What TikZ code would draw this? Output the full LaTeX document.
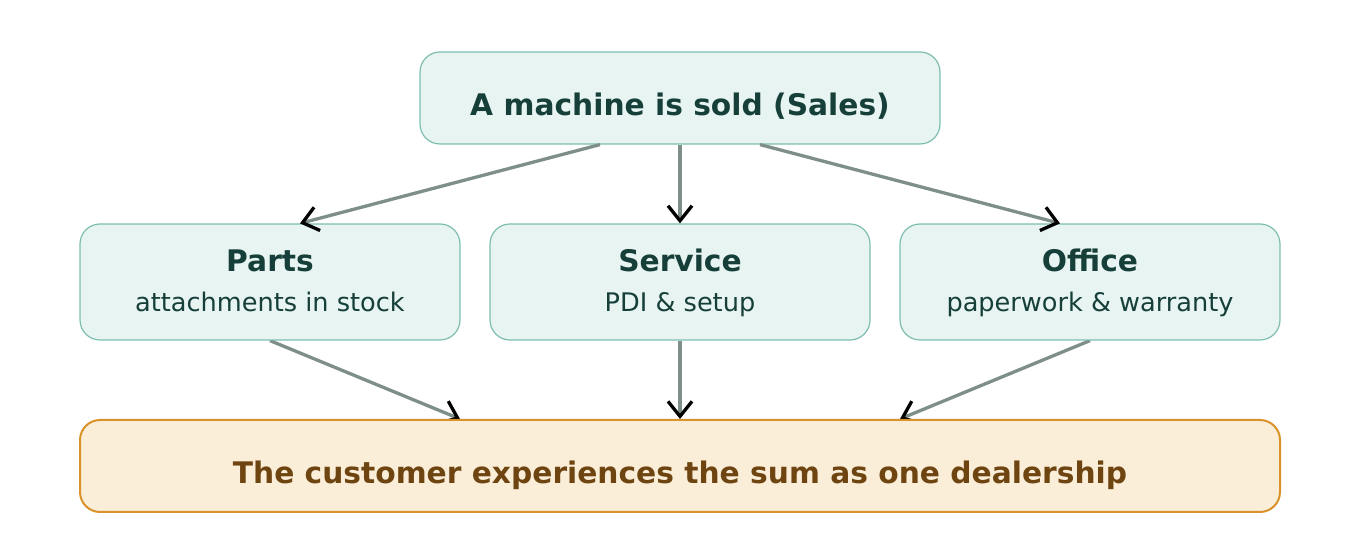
\documentclass[tikz,border=0pt]{standalone}
\usepackage{fontspec}
\setmainfont{DejaVu Sans}
\usetikzlibrary{arrows.meta,calc,backgrounds}
\definecolor{tealfill}{HTML}{E7F4F1}
\definecolor{tealline}{HTML}{7DBDB0}
\definecolor{tealtext}{HTML}{163F3A}
\definecolor{orfill}{HTML}{FAEED8}
\definecolor{orline}{HTML}{D9932A}
\definecolor{ortext}{HTML}{6E4511}
\definecolor{connc}{HTML}{7E8F89}
\begin{document}
\begin{tikzpicture}[x=0.5pt,y=-0.5pt,
  box/.style={draw=tealline, fill=tealfill, line width=0.6pt, rounded corners=10pt, inner sep=0pt},
  sumbox/.style={draw=orline, fill=orfill, line width=1pt, rounded corners=10pt, inner sep=0pt},
  headtxt/.style={font=\fontsize{14.85}{17}\selectfont\bfseries, text=tealtext, anchor=base, inner sep=0pt},
  subtxt/.style={font=\fontsize{12.8}{15}\selectfont, text=tealtext, anchor=base, inner sep=0pt},
  sumtxt/.style={font=\fontsize{14.85}{17}\selectfont\bfseries, text=ortext, anchor=base, inner sep=0pt},
  conn/.style={draw=connc, line width=1.65pt, -{Straight Barb[color=black,length=7.5pt,width=12pt,line width=1.65pt]}}]
\useasboundingbox (0,0) rectangle (1360,544);
% boxes
\node[box, minimum width=260pt, minimum height=46pt] (sales) at (680,98) {};
\node[box, minimum width=190pt, minimum height=58pt] (parts) at (270,282) {};
\node[box, minimum width=190pt, minimum height=58pt] (service) at (680,282) {};
\node[box, minimum width=190pt, minimum height=58pt] (office) at (1090,282) {};
\node[sumbox, minimum width=600pt, minimum height=46pt] (sum) at (680,466) {};
% texts
\node[headtxt] (salest) at (680,116) {A machine is sold (Sales)};
\node[headtxt] (partst) at (270,272) {Parts};
\node[subtxt] (partss) at (270,312) {attachments in stock};
\node[headtxt] (servicet) at (680,272) {Service};
\node[subtxt] (services) at (680,312) {PDI \& setup};
\node[headtxt] (officet) at (1090,272) {Office};
\node[subtxt] (offices) at (1090,312) {paperwork \& warranty};
\node[sumtxt] (sumt) at (680,484) {The customer experiences the sum as one dealership};
% connectors
\draw[conn] ($(sales.south)+(-80,0)$) -- ($(parts.north)+(30,0)$);
\draw[conn] (sales.south) -- (service.north);
\draw[conn] ($(sales.south)+(80,0)$) -- ($(office.north)+(-30,0)$);
\begin{pgfonlayer}{background}
\draw[conn] (parts.south) -- ($(sum.north)+(-220,0)$);
\draw[conn] (service.south) -- (sum.north);
\draw[conn] (office.south) -- ($(sum.north)+(220,0)$);
\end{pgfonlayer}
\end{tikzpicture}
\end{document}
